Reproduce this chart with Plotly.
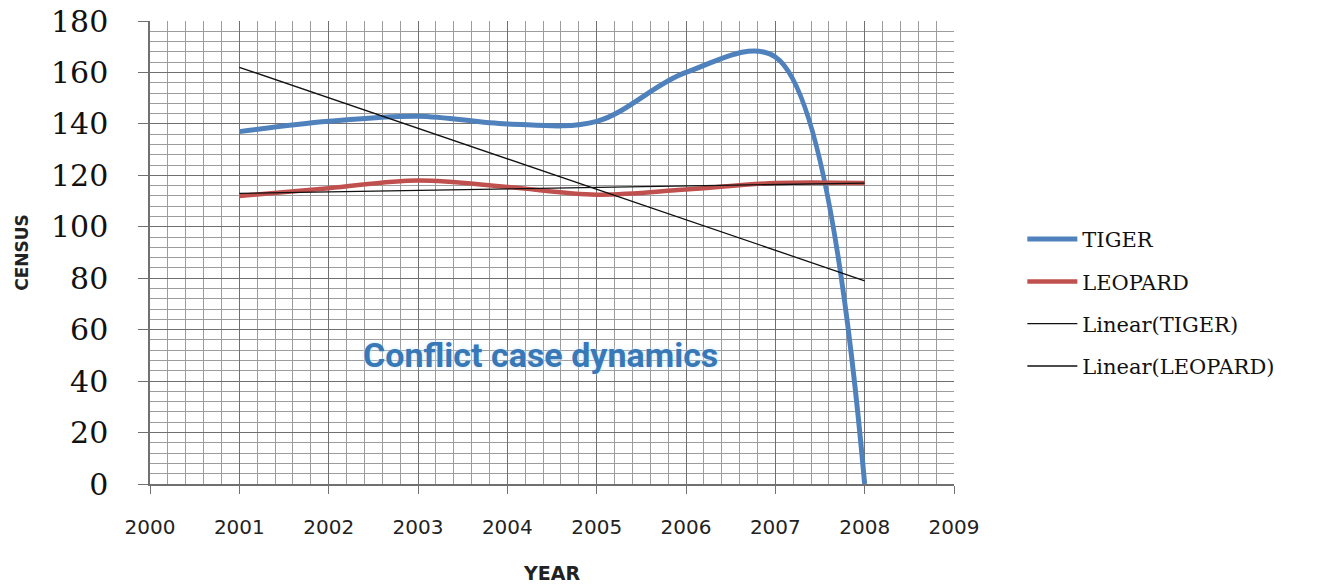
import plotly.graph_objects as go

years = [2001, 2002, 2003, 2004, 2005, 2006, 2007, 2008]
tiger = [137, 141, 143, 140, 141, 160, 166, 0]
leopard = [112, 115, 118, 115.5, 112.5, 114.5, 117, 117]
trend_years = [2001, 2008]
tiger_trend = [162, 79]
leopard_trend = [113, 117]
x_ticks = [2000, 2001, 2002, 2003, 2004, 2005, 2006, 2007, 2008, 2009]
y_ticks = [0, 20, 40, 60, 80, 100, 120, 140, 160, 180]

fig = go.Figure()
fig.add_trace(go.Scatter(x=years, y=tiger, mode="lines", name="TIGER",
                         line=dict(color="#4f81bd", width=5, shape="spline", smoothing=1),
                         legendgroup="a"))
fig.add_trace(go.Scatter(x=years, y=leopard, mode="lines", name="LEOPARD",
                         line=dict(color="#c0504d", width=4.5, shape="spline", smoothing=1),
                         legendgroup="b"))
fig.add_trace(go.Scatter(x=trend_years, y=tiger_trend, mode="lines", name="Linear(TIGER)",
                         line=dict(color="#111111", width=1.3), legendgroup="c"))
fig.add_trace(go.Scatter(x=trend_years, y=leopard_trend, mode="lines", name="Linear(LEOPARD)",
                         line=dict(color="#111111", width=1.3), legendgroup="d"))

fig.add_annotation(x=2004.37, y=50, xref="x", yref="y", text="Conflict case dynamics",
                   showarrow=False,
                   font=dict(family="Roboto, sans-serif", size=34,
                             color="#3878b6", weight="bold",
                             shadow="0px 0px 4px #cfe8ff"))

fig.update_layout(
    width=1317, height=584,
    margin=dict(l=150, r=363, t=21, b=100),
    paper_bgcolor="white", plot_bgcolor="white",
    showlegend=True,
    legend=dict(x=1.085, xanchor="left", y=0.391, yanchor="middle",
                font=dict(family="DejaVu Serif, serif", size=21, color="#111"),
                itemwidth=50,
                tracegroupgap=12, bgcolor="rgba(0,0,0,0)"),
    xaxis=dict(range=[2000, 2009], tickvals=x_ticks, ticktext=[str(v) for v in x_ticks],
               automargin=False,
               showgrid=True, gridcolor="#707070", gridwidth=1.3,
               minor=dict(dtick=0.2, tick0=2000, showgrid=True, gridcolor="#9c9c9c", gridwidth=1),
               showline=True, linecolor="#707070", linewidth=1.5,
               ticks="outside", ticklen=8, tickcolor="#707070", ticklabelstandoff=16,
               tickfont=dict(family="DejaVu Sans, sans-serif", size=20, color="#222"),
               title=dict(text="YEAR", standoff=30,
                          font=dict(family="DejaVu Sans, sans-serif", size=19, color="#222", weight="bold")),
               zeroline=False),
    yaxis=dict(range=[0, 180], tickvals=y_ticks, ticktext=[str(v) for v in y_ticks],
               automargin=False,
               showgrid=True, gridcolor="#707070", gridwidth=1.3,
               minor=dict(dtick=4, tick0=0, showgrid=True, gridcolor="#9c9c9c", gridwidth=1),
               showline=True, linecolor="#707070", linewidth=1.5,
               ticks="outside", ticklen=10, tickcolor="#707070", ticklabelstandoff=24,
               tickfont=dict(family="DejaVu Serif, serif", size=30, color="#111"),
               title=dict(text="CENSUS", standoff=18,
                          font=dict(family="DejaVu Sans, sans-serif", size=17, color="#222", weight="bold")),
               zeroline=False),
)

fig.write_html("out.html")
